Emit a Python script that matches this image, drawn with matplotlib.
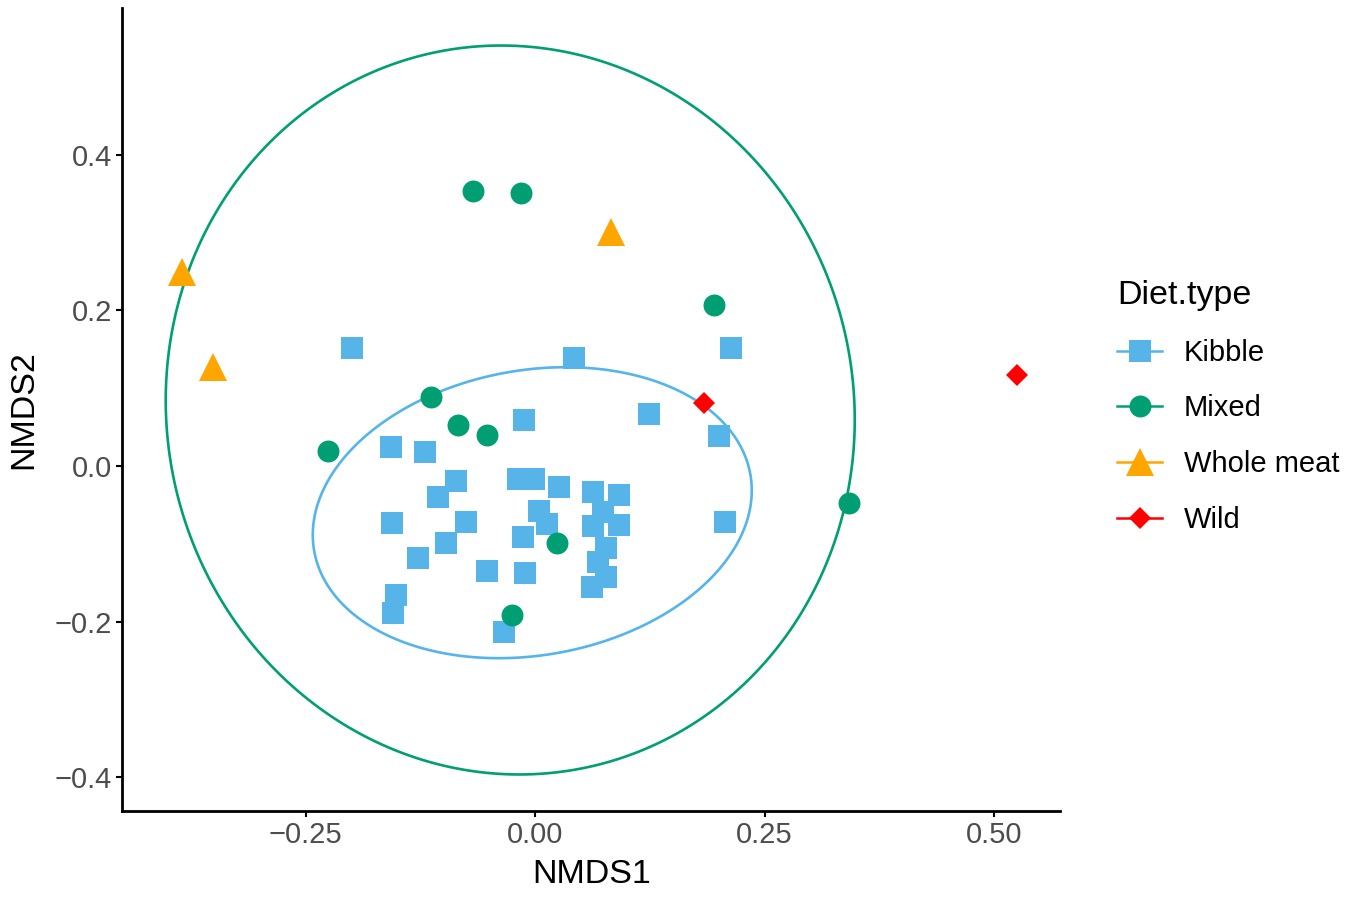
import numpy as np
import matplotlib
matplotlib.use("Agg")
import matplotlib.pyplot as plt
from matplotlib.lines import Line2D
from matplotlib.patches import Polygon

plt.rcParams['font.family'] = ['Liberation Sans', 'DejaVu Sans']

# ---------------- data ----------------
kibble_x = [-0.199, 0.042, 0.214, 0.124, -0.012, -0.157, -0.120, 0.200, -0.086, -0.106,
            -0.019, -0.001, 0.026, 0.063, 0.092, 0.004, 0.013, -0.156, -0.075, -0.097,
            -0.013, 0.063, 0.092, 0.074, 0.077, -0.127, -0.052, -0.011, 0.069, 0.077,
            0.062, -0.151, -0.155, -0.034, 0.207]
kibble_y = [0.152, 0.139, 0.152, 0.067, 0.059, 0.024, 0.018, 0.039, -0.019, -0.040,
            -0.017, -0.017, -0.027, -0.033, -0.037, -0.058, -0.075, -0.073, -0.072, -0.099,
            -0.091, -0.077, -0.076, -0.059, -0.105, -0.118, -0.135, -0.138, -0.123, -0.143,
            -0.156, -0.166, -0.189, -0.213, -0.072]

mixed_x = [-0.068, -0.015, 0.195, -0.113, -0.084, -0.052, -0.225, 0.024, -0.025, 0.342]
mixed_y = [0.353, 0.351, 0.207, 0.089, 0.053, 0.040, 0.019, -0.099, -0.192, -0.048]

wholemeat_x = [-0.385, -0.351, 0.083]
wholemeat_y = [0.249, 0.127, 0.301]

wild_x = [0.184, 0.525]
wild_y = [0.081, 0.117]

# stat_ellipse: centre and shape (covariance-like) matrix
kibble_ell_center = [-0.003, -0.060]
kibble_ell_shape = [[0.2391 ** 2, 0.006819], [0.006819, 0.1870 ** 2]]
mixed_ell_center = [-0.027, 0.072]
mixed_ell_shape = [[0.3753 ** 2, -0.00462], [-0.00462, 0.4685 ** 2]]

categories = ["Kibble", "Mixed", "Whole meat", "Wild"]
colors = ["#56B4E9", "#009E73", "#FFA500", "#FF0000"]
markers = ["s", "o", "^", "D"]
msizes = [15.8, 15.8, 20, 11]

x_ticks = [-0.25, 0.0, 0.25, 0.50]
x_tick_labels = ["\u22120.25", "0.00", "0.25", "0.50"]
y_ticks = [-0.4, -0.2, 0.0, 0.2, 0.4]
y_tick_labels = ["\u22120.4", "\u22120.2", "0.0", "0.2", "0.4"]


def ellipse_xy(center, shape, n=360):
    L = np.linalg.cholesky(np.array(shape))
    t = np.linspace(0, 2 * np.pi, n, endpoint=False)
    pts = L @ np.vstack([np.cos(t), np.sin(t)])
    return np.column_stack([center[0] + pts[0], center[1] + pts[1]])


fig = plt.figure(figsize=(13.5, 8.98), dpi=100)
ax = fig.add_axes([122.4 / 1350, (898 - 810.5) / 898, (1060 - 122.4) / 1350, (810.5 - 8.5) / 898])

for center, shape, c in [(kibble_ell_center, kibble_ell_shape, colors[0]),
                         (mixed_ell_center, mixed_ell_shape, colors[1])]:
    ax.add_patch(Polygon(ellipse_xy(center, shape), closed=True, fill=False,
                         edgecolor=c, lw=1.9, zorder=2))

series = [(kibble_x, kibble_y), (mixed_x, mixed_y), (wholemeat_x, wholemeat_y), (wild_x, wild_y)]
for (xs, ys), c, m, ms in zip(series, colors, markers, msizes):
    ax.plot(xs, ys, linestyle="none", marker=m, markersize=ms, color=c,
            markeredgewidth=0, zorder=3)

ax.set_xlim(-0.4495, 0.5719)
ax.set_ylim(-0.4428, 0.5881)

for s in ["top", "right"]:
    ax.spines[s].set_visible(False)
for s in ["left", "bottom"]:
    ax.spines[s].set_linewidth(2.0)
    ax.spines[s].set_color("black")

ax.set_xticks(x_ticks)
ax.set_xticklabels(x_tick_labels)
ax.set_yticks(y_ticks)
ax.set_yticklabels(y_tick_labels)
ax.tick_params(axis="both", length=4.5, width=1.5, color="black",
               labelsize=21, labelcolor="#4D4D4D", pad=3)

ax.set_xlabel("NMDS1", fontsize=24.5, labelpad=7)
ax.set_ylabel("NMDS2", fontsize=24.5, labelpad=11)

handles = [Line2D([], [], color=c, marker=m, markersize=ms, lw=1.8, markeredgewidth=0)
           for c, m, ms in zip(colors, markers, msizes)]
leg = fig.legend(handles, categories, title="Diet.type", frameon=False,
                 loc="upper left", bbox_to_anchor=(1117 / 1350, 1 - 280 / 898),
                 fontsize=21, title_fontsize=24.5, borderpad=0, borderaxespad=0,
                 handlelength=1.55, handletextpad=0.75, labelspacing=0.95,
                 alignment="left")

fig.savefig("out.png", dpi=100)
